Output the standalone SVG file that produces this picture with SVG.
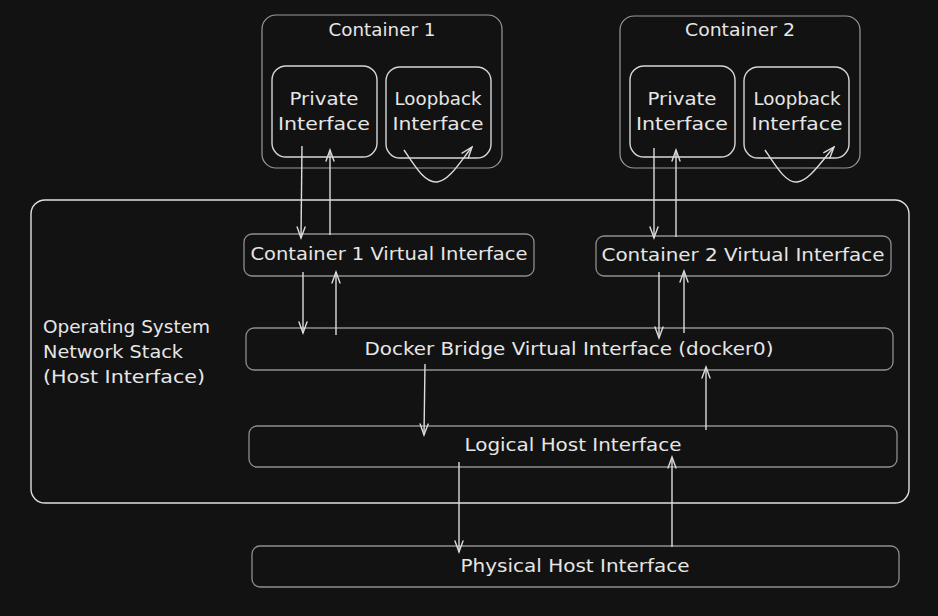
<svg xmlns="http://www.w3.org/2000/svg" width="938" height="616" viewBox="0 0 938 616">
<defs>
<style>
text{font-family:"DejaVu Sans","Liberation Sans",sans-serif;font-size:17px;fill:#e6e6e6;}
.c{text-anchor:middle;}
.outer{fill:none;stroke:#9a9a9a;stroke-width:1.2;}
.inner{fill:none;stroke:#d6d6d6;stroke-width:1.4;}
.iface{fill:none;stroke:#8e8e8e;stroke-width:1.3;}
.os{fill:none;stroke:#e0e0e0;stroke-width:1.4;}
.conn{fill:none;stroke:#dcdcdc;stroke-width:1.4;marker-end:url(#ah);}
</style>
<marker id="ah" markerUnits="userSpaceOnUse" viewBox="-12 -6 14 12" refX="0" refY="0" markerWidth="14" markerHeight="12" orient="auto">
<path d="M-11,-4 L0,0 L-11,4" fill="none" stroke="#dcdcdc" stroke-width="1.4" stroke-linecap="round"/>
</marker>
</defs>
<rect x="0" y="0" width="938" height="616" fill="#121212"/>

<g id="os-stack">
<rect class="os" x="31" y="200" width="878" height="303" rx="14"/>
<text x="43" y="333" textLength="167" lengthAdjust="spacingAndGlyphs">Operating System</text>
<text x="43" y="358" textLength="140" lengthAdjust="spacingAndGlyphs">Network Stack</text>
<text x="43" y="383" textLength="162" lengthAdjust="spacingAndGlyphs">(Host Interface)</text>
</g>

<g id="container1">
<rect class="outer" x="262" y="15" width="240" height="153" rx="14"/>
<text class="c" x="382" y="36" textLength="107" lengthAdjust="spacingAndGlyphs">Container 1</text>
</g>
<g id="c1-private">
<rect class="inner" x="272" y="66" width="105" height="91" rx="14"/>
<text class="c" x="324" y="105" textLength="69" lengthAdjust="spacingAndGlyphs">Private</text>
<text class="c" x="324" y="130" textLength="92" lengthAdjust="spacingAndGlyphs">Interface</text>
</g>
<g id="c1-loopback">
<rect class="inner" x="386" y="67" width="105" height="91" rx="14"/>
<text class="c" x="438" y="105" textLength="87" lengthAdjust="spacingAndGlyphs">Loopback</text>
<text class="c" x="438" y="130" textLength="91" lengthAdjust="spacingAndGlyphs">Interface</text>
</g>

<g id="container2">
<rect class="outer" x="620" y="16" width="240" height="152" rx="14"/>
<text class="c" x="740" y="36" textLength="110" lengthAdjust="spacingAndGlyphs">Container 2</text>
</g>
<g id="c2-private">
<rect class="inner" x="630" y="66" width="105" height="91" rx="14"/>
<text class="c" x="682" y="105" textLength="69" lengthAdjust="spacingAndGlyphs">Private</text>
<text class="c" x="682" y="130" textLength="92" lengthAdjust="spacingAndGlyphs">Interface</text>
</g>
<g id="c2-loopback">
<rect class="inner" x="744" y="67" width="105" height="91" rx="14"/>
<text class="c" x="797" y="105" textLength="87" lengthAdjust="spacingAndGlyphs">Loopback</text>
<text class="c" x="797" y="130" textLength="91" lengthAdjust="spacingAndGlyphs">Interface</text>
</g>

<g id="c1-virtual">
<rect class="iface" x="244" y="234" width="290" height="42" rx="8"/>
<text class="c" x="389" y="260" textLength="277" lengthAdjust="spacingAndGlyphs">Container 1 Virtual Interface</text>
</g>
<g id="c2-virtual">
<rect class="iface" x="596" y="236" width="295" height="40" rx="8"/>
<text class="c" x="743" y="261" textLength="283" lengthAdjust="spacingAndGlyphs">Container 2 Virtual Interface</text>
</g>
<g id="docker0">
<rect class="iface" x="246" y="328" width="647" height="42" rx="8"/>
<text class="c" x="569" y="355" textLength="409" lengthAdjust="spacingAndGlyphs">Docker Bridge Virtual Interface (docker0)</text>
</g>
<g id="logical-host">
<rect class="iface" x="249" y="426" width="648" height="41" rx="8"/>
<text class="c" x="573" y="451" textLength="217" lengthAdjust="spacingAndGlyphs">Logical Host Interface</text>
</g>
<g id="physical-host">
<rect class="iface" x="252" y="546" width="647" height="41" rx="8"/>
<text class="c" x="575" y="572" textLength="229" lengthAdjust="spacingAndGlyphs">Physical Host Interface</text>
</g>

<g id="connectors">
<path class="conn" d="M404,150 C416,168 425,183 437,182 C449,181 460,162 472,147"/>
<path class="conn" d="M765,150 C777,168 786,183 797,182 C809,181 821,162 834,147"/>
<path class="conn" d="M302,146 L301,238"/>
<path class="conn" d="M330,235 L330,150"/>
<path class="conn" d="M654,148 L654,238"/>
<path class="conn" d="M676,237 L676,150"/>
<path class="conn" d="M303,272 L303,333"/>
<path class="conn" d="M336,335 L336,272"/>
<path class="conn" d="M659,272 L659,338"/>
<path class="conn" d="M684,333 L684,271"/>
<path class="conn" d="M425,364 L424,435"/>
<path class="conn" d="M706,430 L706,367"/>
<path class="conn" d="M459,462 L459,552"/>
<path class="conn" d="M672,547 L672,457"/>
</g>
</svg>
